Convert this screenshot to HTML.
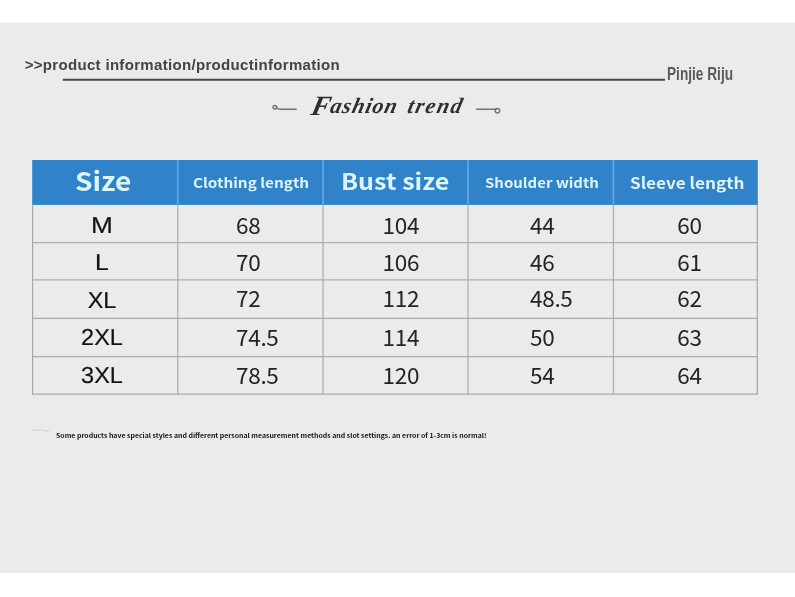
<!DOCTYPE html>
<html>
<head>
<meta charset="utf-8">
<title>Size chart</title>
<style>
*{margin:0;padding:0;box-sizing:border-box;}
html,body{width:795px;height:597px;background:#fff;overflow:hidden;}
body{position:relative;font-family:"Liberation Sans","Noto Sans CJK SC",sans-serif;}
#panel{position:absolute;left:0;top:22px;width:795px;height:551px;background:#ebebeb;border-top:1px solid #f6f6f6;}
.t{position:absolute;white-space:nowrap;line-height:1.2;display:block;}
svg{position:absolute;left:0;top:0;}
h1,th,td,p,nav{font:inherit;font-weight:normal;}
#sizes{margin:160px 0 0 32px;width:726px;height:235px;border-collapse:collapse;border-spacing:0;table-layout:fixed;}
#sizes thead tr{height:45px;}
#sizes tbody tr{height:38px;}
</style>
</head>
<body>
<div id="panel"></div>
<svg id="grid" width="795" height="597" viewBox="0 0 795 597">
<line x1="62.8" y1="79.65" x2="665" y2="79.65" stroke="#474747" stroke-width="2"/>
<rect x="32.2" y="160" width="725.6" height="44.9" fill="#3083c9"/>
<line x1="177.8" y1="160.3" x2="177.8" y2="204.6" stroke="#62a6e2" stroke-width="1.8"/>
<line x1="323.1" y1="160.3" x2="323.1" y2="204.6" stroke="#62a6e2" stroke-width="1.8"/>
<line x1="468.1" y1="160.3" x2="468.1" y2="204.6" stroke="#62a6e2" stroke-width="1.8"/>
<line x1="613.4" y1="160.3" x2="613.4" y2="204.6" stroke="#62a6e2" stroke-width="1.8"/>
<line x1="32.6" y1="204.9" x2="32.6" y2="394.8" stroke="#a8a8a8" stroke-width="1.2"/>
<line x1="177.8" y1="204.9" x2="177.8" y2="394.8" stroke="#b0b0b0" stroke-width="1.3"/>
<line x1="323.1" y1="204.9" x2="323.1" y2="394.8" stroke="#b0b0b0" stroke-width="1.3"/>
<line x1="468.1" y1="204.9" x2="468.1" y2="394.8" stroke="#b0b0b0" stroke-width="1.3"/>
<line x1="613.4" y1="204.9" x2="613.4" y2="394.8" stroke="#b0b0b0" stroke-width="1.3"/>
<line x1="757.3" y1="204.9" x2="757.3" y2="394.8" stroke="#a8a8a8" stroke-width="1.2"/>
<line x1="32" y1="242.5" x2="757.9" y2="242.5" stroke="#adadad" stroke-width="1.25"/>
<line x1="32" y1="279.9" x2="757.9" y2="279.9" stroke="#adadad" stroke-width="1.25"/>
<line x1="32" y1="318.4" x2="757.9" y2="318.4" stroke="#adadad" stroke-width="1.25"/>
<line x1="32" y1="356.5" x2="757.9" y2="356.5" stroke="#adadad" stroke-width="1.25"/>
<line x1="32" y1="394.2" x2="757.9" y2="394.2" stroke="#adadad" stroke-width="1.25"/>
<g fill="none" stroke="#727272" stroke-width="1.5" stroke-linecap="round">
<path d="M296.3 109.2 H279.5 C276.5 109.2 276.8 105.6 274.6 105.6 C272.6 105.6 272.2 108.8 274.6 109 C276.6 109.1 277.6 107.6 276.6 106.4"/>
<path d="M476.6 109.3 H494 C495 109.3 496 108.6 497.4 108.6 C500.4 108.6 500.6 113 497.4 113 C494.6 113 494.4 109.6 496.6 109.2"/>
</g>
<path d="M33 430.4 C38 429.6 44 430.2 48.5 431.2" fill="none" stroke="#d2d2d2" stroke-width="1.2" stroke-linecap="round"/>
</svg>
<header>
<nav><span class="t" id="crumb" style="left:24.7px;top:55.6px;font-size:15px;font-weight:bold;color:#444;letter-spacing:0.32px;">&gt;&gt;product information/productinformation</span></nav>
<span class="t" id="brand" style="left:666.8px;top:63.2px;font-size:18.6px;font-weight:bold;color:#5a5a5a;transform-origin:0 0;transform:scaleX(.735);">Pinjie Riju</span>
<h1><span class="t" id="trend1" style="left:308.7px;top:92.5px;font-family:'Liberation Serif',serif;font-style:italic;font-weight:bold;font-size:22px;color:#2e2e2e;letter-spacing:1.0px;transform-origin:0 100%;transform:skewX(-13deg);"><span style="font-size:28px;line-height:0;position:relative;top:1.5px;letter-spacing:0.2px;">F</span>ashion</span> <span class="t" id="trend2" style="left:405.2px;top:92.8px;font-family:'Liberation Serif',serif;font-style:italic;font-weight:bold;font-size:22px;color:#2e2e2e;letter-spacing:1.6px;transform-origin:0 100%;transform:skewX(-13deg);">trend</span></h1>
</header>
<main>
<table id="sizes">
<thead>
<tr><th><span class="t" id="h1" style="left:75px;top:164.4px;font-family:'Noto Sans CJK SC','Liberation Sans',sans-serif;font-weight:bold;color:#dcf4fa;font-size:26px;transform-origin:0 50%;transform:scaleX(1.08);">Size</span></th><th><span class="t" id="h2" style="left:192.8px;top:174.4px;font-family:'Noto Sans CJK SC','Liberation Sans',sans-serif;font-weight:bold;color:#dcf4fa;font-size:13.6px;transform-origin:0 50%;transform:scaleX(1.125);">Clothing length</span></th><th><span class="t" id="h3" style="left:341.3px;top:167.2px;font-family:'Noto Sans CJK SC','Liberation Sans',sans-serif;font-weight:bold;color:#dcf4fa;font-size:22px;transform-origin:0 50%;transform:scaleX(1.14);">Bust size</span></th><th><span class="t" id="h4" style="left:485.3px;top:174px;font-family:'Noto Sans CJK SC','Liberation Sans',sans-serif;font-weight:bold;color:#dcf4fa;font-size:13.5px;transform-origin:0 50%;transform:scaleX(1.11);">Shoulder width</span></th><th><span class="t" id="h5" style="left:629.7px;top:173px;font-family:'Noto Sans CJK SC','Liberation Sans',sans-serif;font-weight:bold;color:#dcf4fa;font-size:16px;transform-origin:0 50%;transform:scaleX(1.072);">Sleeve length</span></th></tr>
</thead>
<tbody>
<tr><th scope="row"><span class="t" id="s0" style="left:51.9px;top:211.9px;width:100px;text-align:center;font-size:23px;color:#121212;-webkit-text-stroke:0.18px #121212;transform-origin:50% 50%;text-rendering:geometricPrecision;transform:scale(1.14,1.0);">M</span></th><td><span class="t" id="n00" style="left:236px;top:211px;font-family:'Noto Sans CJK SC','Liberation Sans',sans-serif;font-weight:400;font-size:22.5px;letter-spacing:-0.3px;color:#242424;">68</span></td><td><span class="t" id="n01" style="left:382.6px;top:211px;font-family:'Noto Sans CJK SC','Liberation Sans',sans-serif;font-weight:400;font-size:22.5px;letter-spacing:-0.3px;color:#242424;">104</span></td><td><span class="t" id="n02" style="left:530px;top:211px;font-family:'Noto Sans CJK SC','Liberation Sans',sans-serif;font-weight:400;font-size:22.5px;letter-spacing:-0.3px;color:#242424;">44</span></td><td><span class="t" id="n03" style="left:677.3px;top:211px;font-family:'Noto Sans CJK SC','Liberation Sans',sans-serif;font-weight:400;font-size:22.5px;letter-spacing:-0.3px;color:#242424;">60</span></td></tr>
<tr><th scope="row"><span class="t" id="s1" style="left:51.9px;top:249.4px;width:100px;text-align:center;font-size:23px;color:#121212;-webkit-text-stroke:0.18px #121212;transform-origin:50% 50%;text-rendering:geometricPrecision;transform:scale(1.08,1.0);">L</span></th><td><span class="t" id="n10" style="left:236px;top:248px;font-family:'Noto Sans CJK SC','Liberation Sans',sans-serif;font-weight:400;font-size:22.5px;letter-spacing:-0.3px;color:#242424;">70</span></td><td><span class="t" id="n11" style="left:382.6px;top:248px;font-family:'Noto Sans CJK SC','Liberation Sans',sans-serif;font-weight:400;font-size:22.5px;letter-spacing:-0.3px;color:#242424;">106</span></td><td><span class="t" id="n12" style="left:530px;top:248px;font-family:'Noto Sans CJK SC','Liberation Sans',sans-serif;font-weight:400;font-size:22.5px;letter-spacing:-0.3px;color:#242424;">46</span></td><td><span class="t" id="n13" style="left:677.3px;top:248px;font-family:'Noto Sans CJK SC','Liberation Sans',sans-serif;font-weight:400;font-size:22.5px;letter-spacing:-0.3px;color:#242424;">61</span></td></tr>
<tr><th scope="row"><span class="t" id="s2" style="left:51.9px;top:286.9px;width:100px;text-align:center;font-size:23px;color:#121212;-webkit-text-stroke:0.18px #121212;transform-origin:50% 50%;text-rendering:geometricPrecision;transform:scale(1.02,1.0);">XL</span></th><td><span class="t" id="n20" style="left:236px;top:284px;font-family:'Noto Sans CJK SC','Liberation Sans',sans-serif;font-weight:400;font-size:22.5px;letter-spacing:-0.3px;color:#242424;">72</span></td><td><span class="t" id="n21" style="left:382.6px;top:284px;font-family:'Noto Sans CJK SC','Liberation Sans',sans-serif;font-weight:400;font-size:22.5px;letter-spacing:-0.3px;color:#242424;">112</span></td><td><span class="t" id="n22" style="left:530px;top:284px;font-family:'Noto Sans CJK SC','Liberation Sans',sans-serif;font-weight:400;font-size:22.5px;letter-spacing:-0.3px;color:#242424;">48.5</span></td><td><span class="t" id="n23" style="left:677.3px;top:284px;font-family:'Noto Sans CJK SC','Liberation Sans',sans-serif;font-weight:400;font-size:22.5px;letter-spacing:-0.3px;color:#242424;">62</span></td></tr>
<tr><th scope="row"><span class="t" id="s3" style="left:51.9px;top:324.4px;width:100px;text-align:center;font-size:23px;color:#121212;-webkit-text-stroke:0.18px #121212;transform-origin:50% 50%;text-rendering:geometricPrecision;transform:scale(1.02,1.0);">2XL</span></th><td><span class="t" id="n30" style="left:236px;top:323px;font-family:'Noto Sans CJK SC','Liberation Sans',sans-serif;font-weight:400;font-size:22.5px;letter-spacing:-0.3px;color:#242424;">74.5</span></td><td><span class="t" id="n31" style="left:382.6px;top:323px;font-family:'Noto Sans CJK SC','Liberation Sans',sans-serif;font-weight:400;font-size:22.5px;letter-spacing:-0.3px;color:#242424;">114</span></td><td><span class="t" id="n32" style="left:530px;top:323px;font-family:'Noto Sans CJK SC','Liberation Sans',sans-serif;font-weight:400;font-size:22.5px;letter-spacing:-0.3px;color:#242424;">50</span></td><td><span class="t" id="n33" style="left:677.3px;top:323px;font-family:'Noto Sans CJK SC','Liberation Sans',sans-serif;font-weight:400;font-size:22.5px;letter-spacing:-0.3px;color:#242424;">63</span></td></tr>
<tr><th scope="row"><span class="t" id="s4" style="left:51.9px;top:362.0px;width:100px;text-align:center;font-size:23px;color:#121212;-webkit-text-stroke:0.18px #121212;transform-origin:50% 50%;text-rendering:geometricPrecision;transform:scale(1.02,1.0);">3XL</span></th><td><span class="t" id="n40" style="left:236px;top:361px;font-family:'Noto Sans CJK SC','Liberation Sans',sans-serif;font-weight:400;font-size:22.5px;letter-spacing:-0.3px;color:#242424;">78.5</span></td><td><span class="t" id="n41" style="left:382.6px;top:361px;font-family:'Noto Sans CJK SC','Liberation Sans',sans-serif;font-weight:400;font-size:22.5px;letter-spacing:-0.3px;color:#242424;">120</span></td><td><span class="t" id="n42" style="left:530px;top:361px;font-family:'Noto Sans CJK SC','Liberation Sans',sans-serif;font-weight:400;font-size:22.5px;letter-spacing:-0.3px;color:#242424;">54</span></td><td><span class="t" id="n43" style="left:677.3px;top:361px;font-family:'Noto Sans CJK SC','Liberation Sans',sans-serif;font-weight:400;font-size:22.5px;letter-spacing:-0.3px;color:#242424;">64</span></td></tr>
</tbody>
</table>
<p><span class="t" id="note" style="left:55.8px;top:431.9px;font-family:'Noto Sans CJK SC','Liberation Sans',sans-serif;font-size:6.3px;font-weight:bold;color:#151515;transform-origin:0 50%;transform:scaleX(1.1);">Some products have special styles and different personal measurement methods and slot settings. an error of 1-3cm is normal!</span></p>
</main>
</body>
</html>
